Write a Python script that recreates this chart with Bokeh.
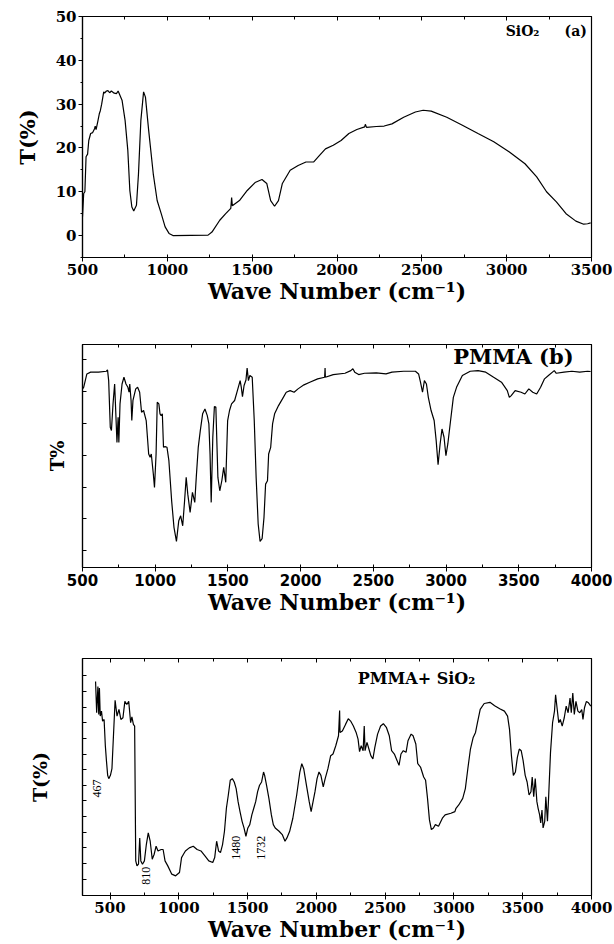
import math
from bokeh.plotting import figure
from bokeh.layouts import column
from bokeh.models import (Range1d, LinearAxis, SingleIntervalTicker, FixedTicker,
                          Label, ColumnDataSource)
from bokeh.core.properties import value
from bokeh.embed import file_html
from bokeh.resources import INLINE

# ---------------- Panel (a): SiO2 ----------------
a_wn = [500, 507, 514, 521, 530, 537, 548, 560, 571, 575,
        580, 590, 599, 605, 613, 625, 630, 641, 650, 660,
        670, 687, 700, 710, 733, 751, 767, 779, 791, 802,
        818, 830, 844, 860, 871, 890, 917, 940, 964, 987,
        1010, 1033, 1240, 1263, 1309, 1344, 1374, 1379, 1383, 1425,
        1471, 1517, 1558, 1586, 1609, 1632, 1655, 1678, 1724, 1771,
        1817, 1863, 1897, 1932, 1978, 2024, 2070, 2117, 2163, 2167,
        2174, 2232, 2278, 2324, 2393, 2462, 2508, 2555, 2647, 2739,
        2831, 2924, 3016, 3108, 3177, 3235, 3293, 3350, 3408, 3454,
        3477, 3495]
a_t = [4.3, 9.6, 10.0, 18.0, 18.6, 21.7, 23.3, 23.5, 24.4, 25.0,
       24.2, 26.0, 27.8, 28.5, 30.0, 32.8, 32.5, 33.0, 33.1, 32.6,
       33.0, 32.5, 32.4, 33.0, 30.9, 26.3, 19.5, 10.3, 6.5, 5.6,
       6.9, 14.1, 26.3, 32.8, 31.6, 24.0, 14.1, 8.0, 5.0, 2.0,
       0.5, 0.0, 0.1, 0.8, 3.5, 5.0, 6.2, 8.7, 6.8, 8.0,
       10.3, 12.1, 12.8, 11.9, 8.0, 6.7, 8.0, 11.9, 14.9, 16.0,
       16.8, 16.8, 18.3, 19.8, 20.6, 21.7, 23.3, 24.2, 24.8, 25.4,
       24.7, 24.9, 25.0, 25.5, 27.0, 28.2, 28.6, 28.4, 27.0, 25.2,
       23.3, 21.4, 19.1, 16.4, 13.4, 10.0, 7.7, 5.0, 3.3, 2.6,
       2.7, 2.9]

# ---------------- Panel (b): PMMA (arbitrary T scale) ----------------
b_wn = [500, 508, 530, 556, 610, 664, 672, 680, 691, 699,
        710, 721, 731, 737, 745, 750, 758, 772, 785, 799,
        812, 820, 825, 834, 839, 847, 866, 879, 893, 906,
        920, 938, 955, 965, 973, 987, 995, 1006, 1014, 1025,
        1033, 1041, 1049, 1057, 1068, 1081, 1094, 1113, 1129, 1146,
        1162, 1175, 1189, 1202, 1213, 1224, 1240, 1256, 1272, 1283,
        1296, 1310, 1326, 1342, 1358, 1369, 1377, 1385, 1396, 1407,
        1417, 1431, 1444, 1458, 1471, 1485, 1498, 1511, 1525, 1546,
        1565, 1584, 1592, 1600, 1611, 1624, 1632, 1641, 1651, 1667,
        1681, 1694, 1708, 1721, 1735, 1748, 1759, 1772, 1780, 1794,
        1807, 1821, 1848, 1875, 1901, 1928, 1955, 1982, 2023, 2063,
        2117, 2165, 2168, 2170, 2224, 2305, 2345, 2359, 2372, 2399,
        2439, 2520, 2587, 2628, 2708, 2789, 2811, 2824, 2838, 2851,
        2865, 2878, 2897, 2918, 2932, 2945, 2959, 2972, 2986, 2999,
        3012, 3031, 3050, 3072, 3112, 3166, 3220, 3273, 3327, 3381,
        3421, 3435, 3448, 3475, 3516, 3542, 3569, 3596, 3623, 3650,
        3677, 3704, 3744, 3758, 3811, 3865, 3919, 3973, 3994]
b_t = [80.1, 80.8, 86.8, 87.6, 87.6, 88.0, 88.6, 83.8, 62.9, 61.4,
       73.4, 82.3, 65.9, 56.1, 67.4, 56.1, 73.4, 82.3, 85.3, 82.3,
       80.8, 78.6, 82.3, 74.9, 65.9, 74.9, 80.1, 80.8, 78.6, 69.6,
       70.4, 65.9, 50.9, 49.4, 50.9, 41.9, 35.9, 50.9, 74.1, 73.4,
       68.9, 68.1, 68.9, 53.9, 54.2, 53.9, 47.9, 29.9, 18.0, 11.7,
       21.0, 23.2, 18.7, 29.9, 40.4, 32.9, 24.7, 33.7, 29.2, 41.2,
       53.9, 61.4, 68.9, 71.1, 68.1, 64.4, 50.9, 29.2, 58.4, 72.2,
       71.9, 40.4, 34.4, 38.9, 44.9, 38.2, 65.9, 70.4, 73.4, 74.9,
       79.3, 83.8, 80.8, 76.6, 81.6, 84.1, 89.4, 83.8, 86.1, 85.3,
       65.9, 40.4, 19.5, 11.7, 12.9, 22.5, 37.4, 38.9, 50.9, 53.9,
       64.4, 68.9, 72.6, 75.6, 78.6, 79.3, 78.6, 80.1, 81.9, 83.1,
       84.6, 85.3, 89.4, 85.3, 86.5, 87.1, 88.3, 89.1, 87.6, 86.5,
       87.1, 87.3, 86.8, 87.6, 88.0, 88.0, 86.8, 83.1, 78.6, 83.8,
       82.3, 76.3, 70.4, 65.9, 56.9, 46.1, 55.4, 62.1, 58.4, 50.1,
       55.4, 65.9, 76.3, 80.8, 86.1, 88.0, 88.3, 87.6, 85.3, 83.1,
       79.3, 76.3, 77.1, 79.3, 78.6, 77.8, 80.1, 78.6, 77.8, 80.8,
       84.6, 86.1, 88.3, 87.1, 87.6, 88.0, 87.6, 88.0, 87.9]
b_yticks = [7.5, 21.9, 35.8, 50.2, 64.6, 78.9, 93.3]

# ---------------- Panel (c): PMMA + SiO2 (arbitrary T scale) ----------------
c_wn = [395, 403, 412, 418, 423, 429, 438, 446, 457, 466,
        474, 483, 491, 503, 514, 537, 551, 565, 579, 594,
        608, 622, 636, 650, 659, 670, 679, 687, 696, 707,
        716, 724, 736, 750, 764, 778, 792, 807, 821, 835,
        849, 872, 886, 900, 920, 949, 977, 1005, 1020, 1034,
        1048, 1076, 1105, 1133, 1161, 1190, 1218, 1247, 1261, 1275,
        1289, 1303, 1318, 1332, 1346, 1360, 1374, 1389, 1403, 1417,
        1431, 1445, 1460, 1474, 1488, 1502, 1516, 1531, 1545, 1559,
        1573, 1587, 1602, 1616, 1624, 1638, 1655, 1673, 1687, 1701,
        1729, 1752, 1772, 1786, 1806, 1829, 1857, 1880, 1894, 1908,
        1928, 1948, 1962, 1976, 1990, 2005, 2019, 2033, 2050, 2064,
        2084, 2104, 2121, 2141, 2161, 2169, 2172, 2189, 2212, 2232,
        2249, 2269, 2289, 2303, 2314, 2326, 2340, 2348, 2354, 2368,
        2382, 2396, 2411, 2425, 2445, 2467, 2487, 2510, 2530, 2547,
        2567, 2587, 2601, 2615, 2632, 2652, 2666, 2689, 2703, 2723,
        2737, 2757, 2780, 2794, 2808, 2822, 2836, 2851, 2865, 2888,
        2916, 2936, 2978, 3007, 3015, 3035, 3064, 3083, 3101, 3120,
        3140, 3157, 3171, 3191, 3220, 3262, 3296, 3333, 3367, 3390,
        3404, 3418, 3432, 3447, 3461, 3475, 3489, 3503, 3518, 3532,
        3546, 3560, 3569, 3580, 3591, 3603, 3612, 3623, 3631, 3640,
        3648, 3660, 3668, 3680, 3688, 3702, 3717, 3731, 3739, 3751,
        3762, 3773, 3787, 3802, 3816, 3830, 3844, 3853, 3864, 3875,
        3887, 3901, 3915, 3929, 3938, 3949, 3963, 3978, 3995]
c_t = [90.3, 77.1, 88.2, 76.4, 87.5, 75.7, 77.8, 73.6, 74.3, 63.2,
       56.9, 50.7, 49.3, 50.7, 53.5, 82.4, 75.7, 78.5, 74.3, 75.0,
       81.9, 80.6, 81.9, 72.9, 75.4, 72.2, 71.5, 14.6, 12.5, 13.2,
       24.3, 14.6, 13.2, 14.6, 21.5, 26.4, 22.9, 15.3, 17.4, 20.8,
       18.8, 19.4, 19.4, 14.6, 12.5, 9.0, 8.3, 9.7, 16.0, 17.4,
       18.8, 20.1, 20.8, 19.4, 18.8, 16.7, 14.6, 13.9, 16.0, 22.9,
       18.8, 18.1, 21.5, 27.1, 36.8, 42.4, 48.6, 49.3, 47.9, 45.1,
       39.6, 35.4, 31.3, 28.5, 25.0, 28.5, 29.9, 34.0, 36.8, 39.6,
       43.8, 46.5, 47.9, 52.1, 50.7, 46.5, 41.0, 34.0, 29.9, 28.5,
       27.1, 25.7, 22.9, 24.3, 27.1, 32.6, 42.4, 52.1, 55.6, 53.5,
       46.5, 39.6, 35.4, 39.6, 43.8, 49.3, 52.1, 50.7, 45.8, 49.3,
       53.5, 59.0, 59.7, 63.2, 67.4, 78.1, 68.8, 69.4, 72.2, 74.6,
       73.6, 71.5, 68.8, 66.0, 60.7, 63.2, 61.1, 71.5, 61.1, 64.6,
       61.8, 59.0, 57.6, 62.5, 68.1, 71.5, 72.5, 70.8, 67.4, 61.1,
       59.7, 56.9, 54.9, 59.7, 61.1, 60.4, 65.3, 68.1, 67.4, 63.9,
       55.6, 54.2, 50.0, 48.6, 41.0, 31.9, 27.8, 28.5, 29.9, 29.2,
       32.6, 34.0, 34.7, 35.4, 36.8, 38.2, 41.0, 45.1, 53.5, 61.8,
       66.7, 68.8, 72.9, 78.5, 81.0, 81.5, 80.1, 78.8, 77.8, 75.7,
       70.1, 59.0, 50.7, 52.1, 58.3, 61.8, 61.1, 56.9, 50.7, 47.9,
       42.4, 43.8, 50.0, 41.7, 49.3, 39.6, 36.8, 34.0, 30.6, 36.1,
       28.5, 31.3, 41.7, 31.3, 41.0, 60.4, 72.9, 77.8, 84.7, 78.5,
       72.9, 74.3, 71.5, 75.0, 79.9, 77.1, 83.3, 77.1, 85.4, 76.4,
       81.9, 77.8, 77.1, 78.5, 74.3, 79.2, 81.9, 81.3, 79.9]
c_yticks = [6.9, 13.5, 20.1, 26.7, 33.3, 39.9, 46.5, 53.1, 59.7, 66.3,
            72.9, 79.5, 86.1, 92.7]
c_peak_text = ["467", "810", "1480", "1732"]
c_peak_x = [408, 763, 1416, 1601]
c_peak_y = [45.1, 8.3, 20.1, 20.1]

XLABEL = "Wave Number (cm\u207b\u00b9)"
SERIF = "DejaVu Serif"
W = 612


def make_fig(height, btop, bbot, xr, yr):
    p = figure(width=W, height=height, x_range=Range1d(*xr), y_range=Range1d(*yr),
               output_backend="svg", toolbar_location=None,
               min_border_left=82, min_border_right=W - 591,
               min_border_top=btop, min_border_bottom=bbot)
    p.grid.visible = False
    p.outline_line_color = "black"
    p.outline_line_width = 1.2
    p.background_fill_color = "white"
    p.border_fill_color = "white"
    return p


def hide_labels(ax):
    ax.major_label_text_font_size = "1px"
    ax.major_label_text_color = None
    ax.major_label_standoff = 0


def style_x(p, font, size, interval=500):
    ax = p.xaxis[0]
    ax.ticker = SingleIntervalTicker(interval=interval, num_minor_ticks=2)
    ax.axis_line_color = "black"
    ax.axis_line_width = 1.2
    ax.major_tick_line_color = "black"
    ax.minor_tick_line_color = "black"
    ax.major_tick_in = 0
    ax.major_tick_out = 4
    ax.minor_tick_in = 3
    ax.minor_tick_out = 0
    ax.major_label_standoff = 2
    ax.major_label_text_font = font
    ax.major_label_text_font_style = "bold"
    ax.major_label_text_font_size = size
    ax.major_label_text_color = "black"
    ax.axis_label = XLABEL
    ax.axis_label_text_font = SERIF
    ax.axis_label_text_font_style = "bold"
    ax.axis_label_text_font_size = "22px"
    ax.axis_label_text_color = "black"
    ax.axis_label_standoff = 0
    top = LinearAxis(ticker=SingleIntervalTicker(interval=interval, num_minor_ticks=2),
                     major_tick_in=4, major_tick_out=0, minor_tick_in=3, minor_tick_out=0,
                     axis_line_color=None)
    hide_labels(top)
    p.add_layout(top, "above")


def style_y(p, label, size, standoff):
    ax = p.yaxis[0]
    ax.axis_line_color = "black"
    ax.axis_line_width = 1.2
    ax.major_tick_line_color = "black"
    ax.minor_tick_line_color = "black"
    ax.axis_label = label
    ax.axis_label_text_font = SERIF
    ax.axis_label_text_font_style = "bold"
    ax.axis_label_text_font_size = size
    ax.axis_label_text_color = "black"
    ax.axis_label_standoff = standoff
    return ax


def add_label(p, x, y, text, size):
    p.add_layout(Label(x=x, y=y, text=text, text_font=SERIF, text_font_style="bold",
                       text_font_size=size, text_color="black",
                       text_align="center", text_baseline="middle"))


# ---------- (a) ----------
pa = make_fig(316, 16, 59, (500, 3500), (-5, 50))
style_x(pa, SERIF, "15px")
ya = style_y(pa, "T(%)", "21px", 13)
ya.ticker = SingleIntervalTicker(interval=10, num_minor_ticks=2)
ya.major_tick_in = 0
ya.major_tick_out = 4
ya.minor_tick_in = 0
ya.minor_tick_out = 2
ya.major_label_standoff = 2
ya.major_label_text_font = SERIF
ya.major_label_text_font_style = "bold"
ya.major_label_text_font_size = "15px"
ya.major_label_text_color = "black"
pa.line(a_wn, a_t, line_color="black", line_width=1.2)
add_label(pa, 3094, 46.8, "SiO\u2082", "14px")
add_label(pa, 3407, 46.8, "(a)", "14px")

# ---------- (b) ----------
pb = make_fig(310, 28, 59, (500, 4000), (0, 100))
style_x(pb, "DejaVu Sans", "15px")
yb = style_y(pb, "T%", "18px", 15)
yb.ticker = FixedTicker(ticks=b_yticks)
yb.major_tick_in = 4
yb.major_tick_out = 0
hide_labels(yb)
pb.line(b_wn, b_t, line_color="black", line_width=1.2)
add_label(pb, 3463, 94.6, "PMMA (b)", "21px")

# ---------- (c) ----------
pc = make_fig(318, 32, 46, (300, 4000), (0, 100))
style_x(pc, SERIF, "15px")
yc = style_y(pc, "T(%)", "19px", 32)
yc.ticker = FixedTicker(ticks=c_yticks)
yc.major_tick_in = 4
yc.major_tick_out = 0
hide_labels(yc)
pc.line(c_wn, c_t, line_color="black", line_width=1.2)
add_label(pc, 2728, 91.7, "PMMA+ SiO\u2082", "16px")
src = ColumnDataSource(dict(x=c_peak_x, y=c_peak_y, t=c_peak_text))
pc.text(x="x", y="y", text="t", source=src, angle=math.pi / 2,
        text_font=value("Liberation Serif"), text_font_size="12px",
        text_align="center", text_baseline="middle", text_color="black")

layout = column(pa, pb, pc)
open("out.html", "w").write(file_html(layout, INLINE))
